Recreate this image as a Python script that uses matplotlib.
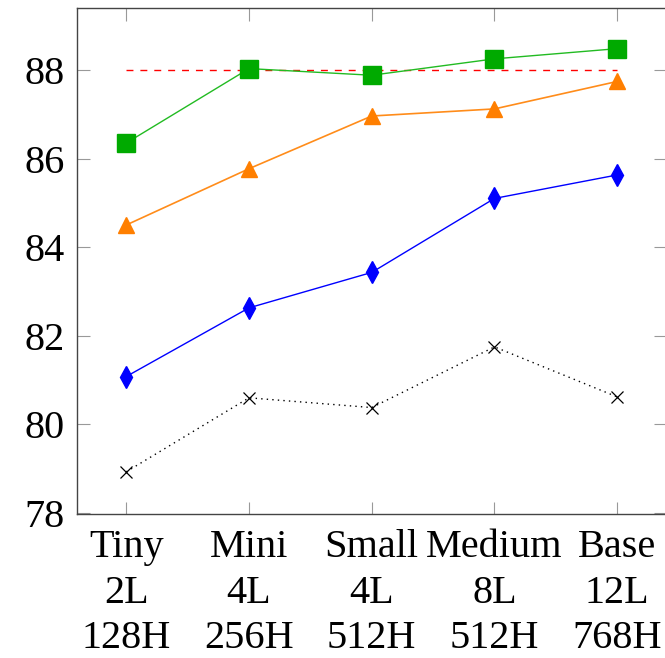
import matplotlib
matplotlib.use("Agg")
import matplotlib.pyplot as plt

plt.rcParams['font.family'] = ['Liberation Serif', 'DejaVu Serif']

# model sizes
labels = ["Tiny\n2L\n128H", "Mini\n4L\n256H", "Small\n4L\n512H",
          "Medium\n8L\n512H", "Base\n12L\n768H"]
xs = list(range(len(labels)))

green_vals = [86.35, 88.03, 87.88, 88.25, 88.48]
orange_vals = [84.50, 85.77, 86.96, 87.12, 87.74]
blue_vals = [81.08, 82.63, 83.43, 85.10, 85.63]
black_vals = [78.93, 80.60, 80.38, 81.75, 80.62]
ref_line = 88.0

fig = plt.figure(figsize=(6.65, 6.58), dpi=100)
ax = fig.add_axes([0.116, 0.219, 0.886, 0.769])

ax.plot([xs[0], xs[-1]], [ref_line, ref_line], color='#ff0000',
        linestyle=(0, (5, 5)), linewidth=1.0, zorder=1)
ax.plot(xs, black_vals, color='black', linestyle=(0, (1, 3)), linewidth=1.0,
        marker='x', markersize=9, markeredgewidth=0.9, zorder=2)
ax.plot(xs, blue_vals, color='#0000ff', linewidth=1.0,
        marker='d', markersize=11, zorder=3)
ax.plot(xs, orange_vals, color='#ff8c1a', linewidth=1.2,
        marker='^', markersize=12, markerfacecolor='#ff7f00',
        markeredgecolor='#ff7f00', zorder=4)
ax.plot(xs, green_vals, color='#22bb22', linewidth=1.0,
        marker='s', markersize=13, markerfacecolor='#00aa00',
        markeredgecolor='#00aa00', zorder=5)

ax.set_xlim(-0.4, 4.4)
ax.set_ylim(77.98, 89.4)
ax.set_yticks([78, 80, 82, 84, 86, 88])
ax.set_xticks(xs)
ax.set_xticklabels(labels, fontsize=29, linespacing=1.3)
ax.tick_params(axis='y', labelsize=29, pad=9)
ax.tick_params(axis='x', pad=11)
ax.tick_params(direction='in', length=9, width=0.8, color='#999999',
               top=True, right=True)
for s in ax.spines.values():
    s.set_color('#444444')
    s.set_linewidth(1.0)

fig.savefig("out.png", dpi=100)
